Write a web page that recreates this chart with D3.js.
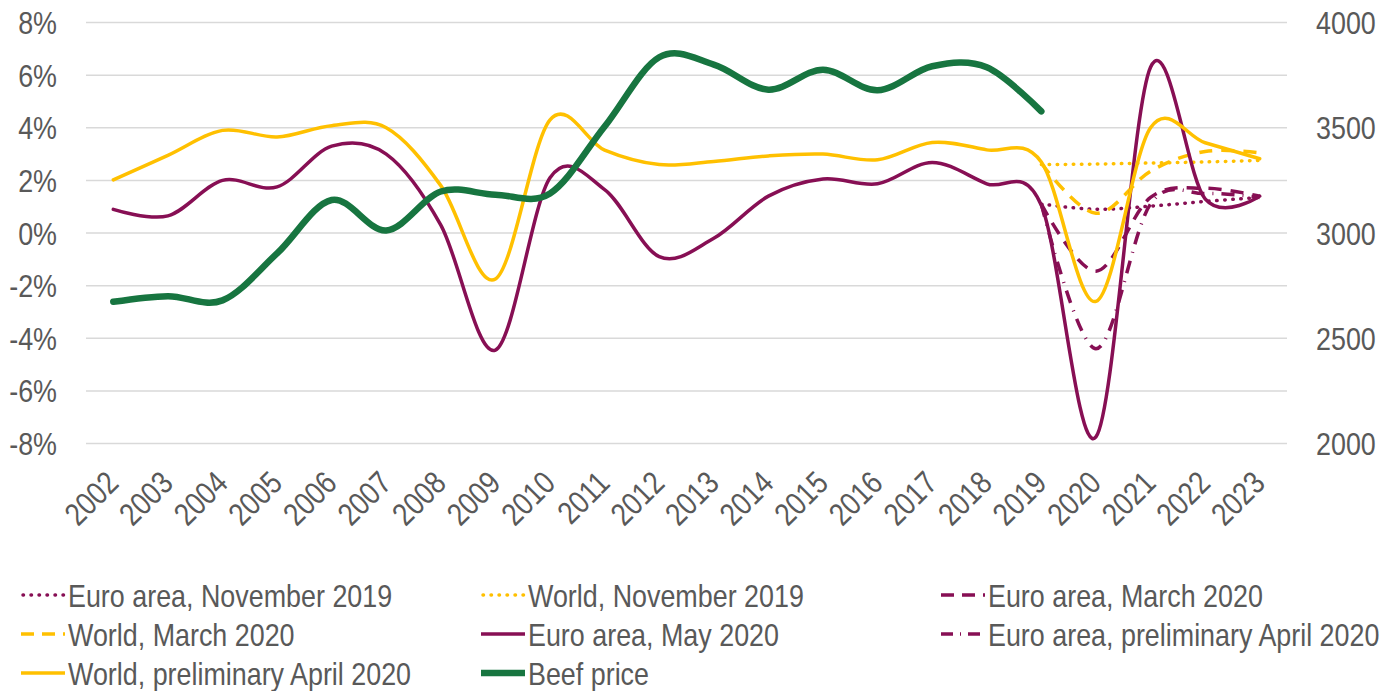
<!DOCTYPE html>
<html>
<head>
<meta charset="utf-8">
<script src="https://cdnjs.cloudflare.com/ajax/libs/d3/7.8.5/d3.min.js"></script>
<style>
  body { margin: 0; background: #fff; }
  text { font-family: "Liberation Sans Narrow", "Arial Narrow", "Liberation Sans", sans-serif; fill: #595959; font-size: 32px; }
</style>
</head>
<body>
<div id="chart"></div>
<script>
// years on the category axis
var years = ["2002","2003","2004","2005","2006","2007","2008","2009","2010","2011","2012",
             "2013","2014","2015","2016","2017","2018","2019","2020","2021","2022","2023"];

// gdp growth, % (null = no value)
var euroNov2019 = [null,null,null,null,null,null,null,null,null,null,null,
                   null,null,null,null,null,null,1.1,0.9,1.02,1.2,1.35];
var worldNov2019 = [null,null,null,null,null,null,null,null,null,null,null,
                    null,null,null,null,null,null,2.6,2.62,2.66,2.7,2.76];
var euroMar2020 = [null,null,null,null,null,null,null,null,null,null,null,
                   null,null,null,null,null,null,1.1,-1.45,1.35,1.7,1.4];
var worldMar2020 = [null,null,null,null,null,null,null,null,null,null,null,
                    null,null,null,null,null,null,2.65,0.75,2.35,3.1,3.05];
var euroMay2020 = [0.9,0.65,2.0,1.75,3.3,3.0,0.3,-4.45,2.1,1.65,-0.9,
                   -0.2,1.4,2.05,1.87,2.68,1.87,1.05,-7.75,6.3,1.3,1.4];
var euroApr2020 = [null,null,null,null,null,null,null,null,null,null,null,
                   null,null,null,null,null,null,1.1,-4.4,1.1,1.5,1.35];
var worldApr2020 = [2.02,2.95,3.9,3.65,4.08,4.0,1.8,-1.75,4.3,3.15,2.6,
                    2.72,2.93,3.0,2.78,3.44,3.16,2.7,-2.6,4.0,3.43,2.82];

// beef price, right axis
var beefPrice = [2673,2700,2680,2903,3157,3012,3197,3182,3188,3506,3835,
                 3800,3681,3776,3678,3792,3787,3578,null,null,null,null];

var leftTicks = [-8,-6,-4,-2,0,2,4,6,8];
var rightTicks = [2000,2500,3000,3500,4000];

var width = 1386,
    height = 691,
    plotLeft = 86,
    plotRight = 1287,
    plotTop = 22.5,
    plotBottom = 443.5,
    narrow = 0.84; // squeeze text to look like a narrow face

var purple = "#870f54",
    gold = "#ffc000",
    green = "#177540";

var svg = d3.select("#chart").append("svg")
    .attr("width", width)
    .attr("height", height);

var x = d3.scalePoint()
    .domain(years)
    .range([plotLeft, plotRight])
    .padding(0.5);

var yLeft = d3.scaleLinear()
    .domain([-8, 8])
    .range([plotBottom, plotTop]);

var yRight = d3.scaleLinear()
    .domain([2000, 4000])
    .range([plotBottom, plotTop]);

// gridlines
svg.append("g")
  .selectAll("line")
    .data(leftTicks)
  .enter().append("line")
    .attr("x1", plotLeft)
    .attr("x2", plotRight)
    .attr("y1", function(d) { return yLeft(d); })
    .attr("y2", function(d) { return yLeft(d); })
    .attr("stroke", "#d9d9d9")
    .attr("stroke-width", 1.5);

// left axis labels
svg.append("g")
  .selectAll("text")
    .data(leftTicks)
  .enter().append("text")
    .attr("transform", function(d) { return "translate(57," + yLeft(d) + ") scale(" + narrow + ",1)"; })
    .attr("dy", "0.36em")
    .attr("text-anchor", "end")
    .text(function(d) { return d + "%"; });

// right axis labels
svg.append("g")
  .selectAll("text")
    .data(rightTicks)
  .enter().append("text")
    .attr("transform", function(d) { return "translate(1316," + yRight(d) + ") scale(" + narrow + ",1)"; })
    .attr("dy", "0.36em")
    .text(function(d) { return d; });

// year labels, rotated
svg.append("g")
  .selectAll("text")
    .data(years)
  .enter().append("text")
    .attr("transform", function(d) {
      return "translate(" + (x(d) + 7) + ",485) rotate(-45) scale(" + narrow + ",1)";
    })
    .attr("text-anchor", "end")
    .text(function(d) { return d; });

// series, drawn in legend order
var series = [
  { name: "Euro area, November 2019", values: euroNov2019, color: purple, dash: "0.5,7.5", cap: "round", w: 3.5, axis: yLeft },
  { name: "World, November 2019", values: worldNov2019, color: gold, dash: "0.5,7.5", cap: "round", w: 3.5, axis: yLeft },
  { name: "Euro area, March 2020", values: euroMar2020, color: purple, dash: "13,9", cap: "butt", w: 3.5, axis: yLeft },
  { name: "World, March 2020", values: worldMar2020, color: gold, dash: "13,9", cap: "butt", w: 3.5, axis: yLeft },
  { name: "Euro area, May 2020", values: euroMay2020, color: purple, dash: null, cap: "round", w: 3.5, axis: yLeft },
  { name: "Euro area, preliminary April 2020", values: euroApr2020, color: purple, dash: "13,8,1,8", cap: "butt", w: 3.5, axis: yLeft },
  { name: "World, preliminary April 2020", values: worldApr2020, color: gold, dash: null, cap: "round", w: 3.5, axis: yLeft },
  { name: "Beef price", values: beefPrice, color: green, dash: null, cap: "round", w: 6.5, axis: yRight }
];

var lineG = svg.append("g");

series.forEach(function(s) {
  var line = d3.line()
      .defined(function(d) { return d != null; })
      .x(function(d, i) { return x(years[i]); })
      .y(function(d) { return s.axis(d); })
      .curve(d3.curveCardinal.tension(0));

  lineG.append("path")
      .datum(s.values)
      .attr("d", line)
      .attr("fill", "none")
      .attr("stroke", s.color)
      .attr("stroke-width", s.w)
      .attr("stroke-linecap", s.cap)
      .attr("stroke-linejoin", "round")
      .attr("stroke-dasharray", s.dash);
});

// legend, three columns
var legendCols = [21, 481, 941],
    legendRows = [595, 634, 673];

var legend = svg.append("g")
  .selectAll("g")
    .data(series)
  .enter().append("g")
    .attr("transform", function(d, i) {
      return "translate(" + legendCols[i % 3] + "," + legendRows[Math.floor(i / 3)] + ")";
    });

legend.append("line")
    .attr("x1", function(d) { return d.cap == "round" && d.dash ? 2 : 0; })
    .attr("x2", 44)
    .attr("stroke", function(d) { return d.color; })
    .attr("stroke-width", function(d) { return d.w; })
    .attr("stroke-linecap", function(d) { return d.dash ? d.cap : "butt"; })
    .attr("stroke-dasharray", function(d) {
      if (d.name.indexOf("preliminary April") > 0 && d.dash) return "12,7,1,7";
      if (d.dash == "13,9") return "13,8";
      return d.dash;
    });

legend.append("text")
    .attr("transform", "translate(47,0) scale(" + narrow + ",1)")
    .attr("dy", "0.36em")
    .text(function(d) { return d.name; });
</script>
</body>
</html>
